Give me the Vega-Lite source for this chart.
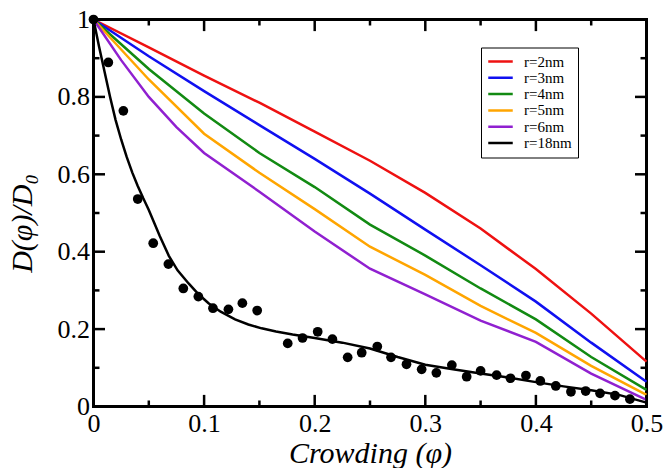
{
  "$schema": "https://vega.github.io/schema/vega-lite/v6.json",
  "width": 553,
  "height": 387,
  "autosize": "none",
  "padding": {"left": 93.5, "top": 19.5, "right": 21.5, "bottom": 61.5},
  "background": "white",
  "config": {
    "view": {"stroke": "black", "strokeWidth": 3},
    "axis": {
      "domain": false,
      "grid": false,
      "ticks": false,
      "labelFont": "Liberation Serif",
      "labelFontSize": 26,
      "labelColor": "black",
      "labelOverlap": false,
      "labelFlush": false,
      "titleFont": "Liberation Serif",
      "titleFontStyle": "italic",
      "titleFontWeight": "normal",
      "titleColor": "black"
    },
    "legend": {
      "orient": "none",
      "legendX": 387.5,
      "legendY": 28,
      "title": null,
      "symbolType": "stroke",
      "symbolStrokeWidth": 2.5,
      "symbolSize": 600,
      "clipHeight": 16,
      "labelFont": "Liberation Serif",
      "labelFontSize": 15,
      "labelColor": "black",
      "labelOffset": 10,
      "strokeColor": "black",
      "padding": 6,
      "rowPadding": 0.3
    }
  },
  "datasets": {
    "xticks": [
      {"v": 0, "k": "major"}, {"v": 0.05, "k": "minor"}, {"v": 0.1, "k": "major"}, {"v": 0.15, "k": "minor"},
      {"v": 0.2, "k": "major"}, {"v": 0.25, "k": "minor"}, {"v": 0.3, "k": "major"}, {"v": 0.35, "k": "minor"},
      {"v": 0.4, "k": "major"}, {"v": 0.45, "k": "minor"}, {"v": 0.5, "k": "major"}
    ],
    "yticks": [
      {"v": 0, "k": "major"}, {"v": 0.1, "k": "minor"}, {"v": 0.2, "k": "major"}, {"v": 0.3, "k": "minor"},
      {"v": 0.4, "k": "major"}, {"v": 0.5, "k": "minor"}, {"v": 0.6, "k": "major"}, {"v": 0.7, "k": "minor"},
      {"v": 0.8, "k": "major"}, {"v": 0.9, "k": "minor"}, {"v": 1, "k": "major"}
    ],
    "curves": [
      {"phi": 0, "D": 1, "r": "r=2nm"},
      {"phi": 0.05, "D": 0.928, "r": "r=2nm"},
      {"phi": 0.1, "D": 0.855, "r": "r=2nm"},
      {"phi": 0.15, "D": 0.785, "r": "r=2nm"},
      {"phi": 0.2, "D": 0.71, "r": "r=2nm"},
      {"phi": 0.25, "D": 0.635, "r": "r=2nm"},
      {"phi": 0.3, "D": 0.552, "r": "r=2nm"},
      {"phi": 0.35, "D": 0.46, "r": "r=2nm"},
      {"phi": 0.4, "D": 0.355, "r": "r=2nm"},
      {"phi": 0.45, "D": 0.24, "r": "r=2nm"},
      {"phi": 0.5, "D": 0.116, "r": "r=2nm"},
      {"phi": 0, "D": 1, "r": "r=3nm"},
      {"phi": 0.05, "D": 0.905, "r": "r=3nm"},
      {"phi": 0.1, "D": 0.815, "r": "r=3nm"},
      {"phi": 0.15, "D": 0.727, "r": "r=3nm"},
      {"phi": 0.2, "D": 0.64, "r": "r=3nm"},
      {"phi": 0.25, "D": 0.55, "r": "r=3nm"},
      {"phi": 0.3, "D": 0.457, "r": "r=3nm"},
      {"phi": 0.35, "D": 0.365, "r": "r=3nm"},
      {"phi": 0.4, "D": 0.271, "r": "r=3nm"},
      {"phi": 0.45, "D": 0.165, "r": "r=3nm"},
      {"phi": 0.5, "D": 0.064, "r": "r=3nm"},
      {"phi": 0, "D": 1, "r": "r=4nm"},
      {"phi": 0.05, "D": 0.872, "r": "r=4nm"},
      {"phi": 0.1, "D": 0.757, "r": "r=4nm"},
      {"phi": 0.15, "D": 0.655, "r": "r=4nm"},
      {"phi": 0.2, "D": 0.567, "r": "r=4nm"},
      {"phi": 0.25, "D": 0.47, "r": "r=4nm"},
      {"phi": 0.3, "D": 0.39, "r": "r=4nm"},
      {"phi": 0.35, "D": 0.305, "r": "r=4nm"},
      {"phi": 0.4, "D": 0.225, "r": "r=4nm"},
      {"phi": 0.45, "D": 0.128, "r": "r=4nm"},
      {"phi": 0.5, "D": 0.043, "r": "r=4nm"},
      {"phi": 0, "D": 1, "r": "r=5nm"},
      {"phi": 0.05, "D": 0.845, "r": "r=5nm"},
      {"phi": 0.1, "D": 0.705, "r": "r=5nm"},
      {"phi": 0.15, "D": 0.604, "r": "r=5nm"},
      {"phi": 0.2, "D": 0.51, "r": "r=5nm"},
      {"phi": 0.25, "D": 0.413, "r": "r=5nm"},
      {"phi": 0.3, "D": 0.34, "r": "r=5nm"},
      {"phi": 0.35, "D": 0.26, "r": "r=5nm"},
      {"phi": 0.4, "D": 0.19, "r": "r=5nm"},
      {"phi": 0.45, "D": 0.105, "r": "r=5nm"},
      {"phi": 0.5, "D": 0.03, "r": "r=5nm"},
      {"phi": 0, "D": 1, "r": "r=6nm"},
      {"phi": 0.025, "D": 0.895, "r": "r=6nm"},
      {"phi": 0.05, "D": 0.8, "r": "r=6nm"},
      {"phi": 0.075, "D": 0.722, "r": "r=6nm"},
      {"phi": 0.1, "D": 0.655, "r": "r=6nm"},
      {"phi": 0.15, "D": 0.555, "r": "r=6nm"},
      {"phi": 0.2, "D": 0.452, "r": "r=6nm"},
      {"phi": 0.25, "D": 0.356, "r": "r=6nm"},
      {"phi": 0.3, "D": 0.29, "r": "r=6nm"},
      {"phi": 0.35, "D": 0.222, "r": "r=6nm"},
      {"phi": 0.4, "D": 0.167, "r": "r=6nm"},
      {"phi": 0.45, "D": 0.085, "r": "r=6nm"},
      {"phi": 0.5, "D": 0.017, "r": "r=6nm"},
      {"phi": 0, "D": 1, "r": "r=18nm"},
      {"phi": 0.005, "D": 0.93, "r": "r=18nm"},
      {"phi": 0.01, "D": 0.865, "r": "r=18nm"},
      {"phi": 0.015, "D": 0.8, "r": "r=18nm"},
      {"phi": 0.02, "D": 0.74, "r": "r=18nm"},
      {"phi": 0.025, "D": 0.69, "r": "r=18nm"},
      {"phi": 0.03, "D": 0.645, "r": "r=18nm"},
      {"phi": 0.035, "D": 0.605, "r": "r=18nm"},
      {"phi": 0.04, "D": 0.57, "r": "r=18nm"},
      {"phi": 0.045, "D": 0.538, "r": "r=18nm"},
      {"phi": 0.05, "D": 0.508, "r": "r=18nm"},
      {"phi": 0.06, "D": 0.44, "r": "r=18nm"},
      {"phi": 0.068, "D": 0.39, "r": "r=18nm"},
      {"phi": 0.076, "D": 0.352, "r": "r=18nm"},
      {"phi": 0.086, "D": 0.318, "r": "r=18nm"},
      {"phi": 0.095, "D": 0.29, "r": "r=18nm"},
      {"phi": 0.104, "D": 0.267, "r": "r=18nm"},
      {"phi": 0.115, "D": 0.245, "r": "r=18nm"},
      {"phi": 0.128, "D": 0.225, "r": "r=18nm"},
      {"phi": 0.14, "D": 0.212, "r": "r=18nm"},
      {"phi": 0.152, "D": 0.202, "r": "r=18nm"},
      {"phi": 0.165, "D": 0.194, "r": "r=18nm"},
      {"phi": 0.18, "D": 0.186, "r": "r=18nm"},
      {"phi": 0.2, "D": 0.177, "r": "r=18nm"},
      {"phi": 0.225, "D": 0.165, "r": "r=18nm"},
      {"phi": 0.25, "D": 0.15, "r": "r=18nm"},
      {"phi": 0.275, "D": 0.128, "r": "r=18nm"},
      {"phi": 0.3, "D": 0.108, "r": "r=18nm"},
      {"phi": 0.325, "D": 0.096, "r": "r=18nm"},
      {"phi": 0.35, "D": 0.085, "r": "r=18nm"},
      {"phi": 0.375, "D": 0.075, "r": "r=18nm"},
      {"phi": 0.4, "D": 0.063, "r": "r=18nm"},
      {"phi": 0.425, "D": 0.052, "r": "r=18nm"},
      {"phi": 0.45, "D": 0.042, "r": "r=18nm"},
      {"phi": 0.475, "D": 0.03, "r": "r=18nm"},
      {"phi": 0.5, "D": 0.01, "r": "r=18nm"}
    ],
    "points": [
      {"phi": 0, "D": 1.0},
      {"phi": 0.0134, "D": 0.889},
      {"phi": 0.027, "D": 0.764},
      {"phi": 0.040, "D": 0.536},
      {"phi": 0.054, "D": 0.422},
      {"phi": 0.0677, "D": 0.368},
      {"phi": 0.0812, "D": 0.305},
      {"phi": 0.0948, "D": 0.284},
      {"phi": 0.108, "D": 0.254},
      {"phi": 0.122, "D": 0.251},
      {"phi": 0.1346, "D": 0.267},
      {"phi": 0.148, "D": 0.248},
      {"phi": 0.1756, "D": 0.163},
      {"phi": 0.189, "D": 0.177},
      {"phi": 0.2027, "D": 0.193},
      {"phi": 0.216, "D": 0.174},
      {"phi": 0.2298, "D": 0.127},
      {"phi": 0.2425, "D": 0.139},
      {"phi": 0.2566, "D": 0.155},
      {"phi": 0.269, "D": 0.127},
      {"phi": 0.283, "D": 0.109},
      {"phi": 0.2967, "D": 0.096},
      {"phi": 0.310, "D": 0.087},
      {"phi": 0.324, "D": 0.107},
      {"phi": 0.3374, "D": 0.077},
      {"phi": 0.350, "D": 0.092},
      {"phi": 0.3645, "D": 0.081},
      {"phi": 0.377, "D": 0.073},
      {"phi": 0.391, "D": 0.080},
      {"phi": 0.404, "D": 0.066},
      {"phi": 0.418, "D": 0.053},
      {"phi": 0.4317, "D": 0.038},
      {"phi": 0.445, "D": 0.040},
      {"phi": 0.458, "D": 0.034},
      {"phi": 0.4715, "D": 0.028},
      {"phi": 0.485, "D": 0.019}
    ]
  },
  "layer": [
    {
      "data": {"name": "curves"},
      "mark": {"type": "line", "strokeWidth": 2.5},
      "encoding": {
        "x": {
          "field": "phi", "type": "quantitative",
          "scale": {"domain": [0, 0.5], "nice": false, "zero": false},
          "axis": {
            "orient": "bottom",
            "title": "Crowding (φ)",
            "titleFontSize": 30,
            "titlePadding": 2,
            "values": [0, 0.1, 0.2, 0.3, 0.4, 0.5],
            "format": "~g",
            "labelPadding": 4
          }
        },
        "y": {
          "field": "D", "type": "quantitative",
          "scale": {"domain": [0, 1], "nice": false},
          "axis": {
            "orient": "left",
            "title": "D(φ)/D₀",
            "titleFontSize": 30,
            "titlePadding": 20,
            "titleY": 203.5,
            "values": [0, 0.2, 0.4, 0.6, 0.8, 1],
            "format": "~g",
            "labelPadding": 4
          }
        },
        "color": {
          "field": "r", "type": "nominal",
          "scale": {
            "domain": ["r=2nm", "r=3nm", "r=4nm", "r=5nm", "r=6nm", "r=18nm"],
            "range": ["#ee1111", "#1010f0", "#128a12", "#ffa500", "#9020d0", "#000000"]
          }
        }
      }
    },
    {
      "data": {"name": "points"},
      "mark": {"type": "circle", "color": "black", "opacity": 1, "size": 95},
      "encoding": {
        "x": {"field": "phi", "type": "quantitative", "axis": null},
        "y": {"field": "D", "type": "quantitative", "axis": null}
      }
    },
    {
      "data": {"name": "xticks"},
      "transform": [{"filter": {"field": "k", "equal": "major"}}],
      "mark": {"type": "rule", "strokeWidth": 2.5, "color": "black"},
      "encoding": {
        "x": {"field": "v", "type": "quantitative", "axis": null},
        "y": {"datum": 0, "type": "quantitative", "axis": null},
        "y2": {"datum": 0.03}
      }
    },
    {
      "data": {"name": "xticks"},
      "transform": [{"filter": {"field": "k", "equal": "major"}}],
      "mark": {"type": "rule", "strokeWidth": 2.5, "color": "black"},
      "encoding": {
        "x": {"field": "v", "type": "quantitative", "axis": null},
        "y": {"datum": 1, "type": "quantitative", "axis": null},
        "y2": {"datum": 0.97}
      }
    },
    {
      "data": {"name": "xticks"},
      "transform": [{"filter": {"field": "k", "equal": "minor"}}],
      "mark": {"type": "rule", "strokeWidth": 2.5, "color": "black"},
      "encoding": {
        "x": {"field": "v", "type": "quantitative", "axis": null},
        "y": {"datum": 0, "type": "quantitative", "axis": null},
        "y2": {"datum": 0.0155}
      }
    },
    {
      "data": {"name": "xticks"},
      "transform": [{"filter": {"field": "k", "equal": "minor"}}],
      "mark": {"type": "rule", "strokeWidth": 2.5, "color": "black"},
      "encoding": {
        "x": {"field": "v", "type": "quantitative", "axis": null},
        "y": {"datum": 1, "type": "quantitative", "axis": null},
        "y2": {"datum": 0.9845}
      }
    },
    {
      "data": {"name": "yticks"},
      "transform": [{"filter": {"field": "k", "equal": "major"}}],
      "mark": {"type": "rule", "strokeWidth": 2.5, "color": "black"},
      "encoding": {
        "y": {"field": "v", "type": "quantitative", "axis": null},
        "x": {"datum": 0, "type": "quantitative", "axis": null},
        "x2": {"datum": 0.0104}
      }
    },
    {
      "data": {"name": "yticks"},
      "transform": [{"filter": {"field": "k", "equal": "major"}}],
      "mark": {"type": "rule", "strokeWidth": 2.5, "color": "black"},
      "encoding": {
        "y": {"field": "v", "type": "quantitative", "axis": null},
        "x": {"datum": 0.5, "type": "quantitative", "axis": null},
        "x2": {"datum": 0.4896}
      }
    },
    {
      "data": {"name": "yticks"},
      "transform": [{"filter": {"field": "k", "equal": "minor"}}],
      "mark": {"type": "rule", "strokeWidth": 2.5, "color": "black"},
      "encoding": {
        "y": {"field": "v", "type": "quantitative", "axis": null},
        "x": {"datum": 0, "type": "quantitative", "axis": null},
        "x2": {"datum": 0.0054}
      }
    },
    {
      "data": {"name": "yticks"},
      "transform": [{"filter": {"field": "k", "equal": "minor"}}],
      "mark": {"type": "rule", "strokeWidth": 2.5, "color": "black"},
      "encoding": {
        "y": {"field": "v", "type": "quantitative", "axis": null},
        "x": {"datum": 0.5, "type": "quantitative", "axis": null},
        "x2": {"datum": 0.4946}
      }
    }
  ],
  "resolve": {"axis": {"x": "independent", "y": "independent"}}
}
